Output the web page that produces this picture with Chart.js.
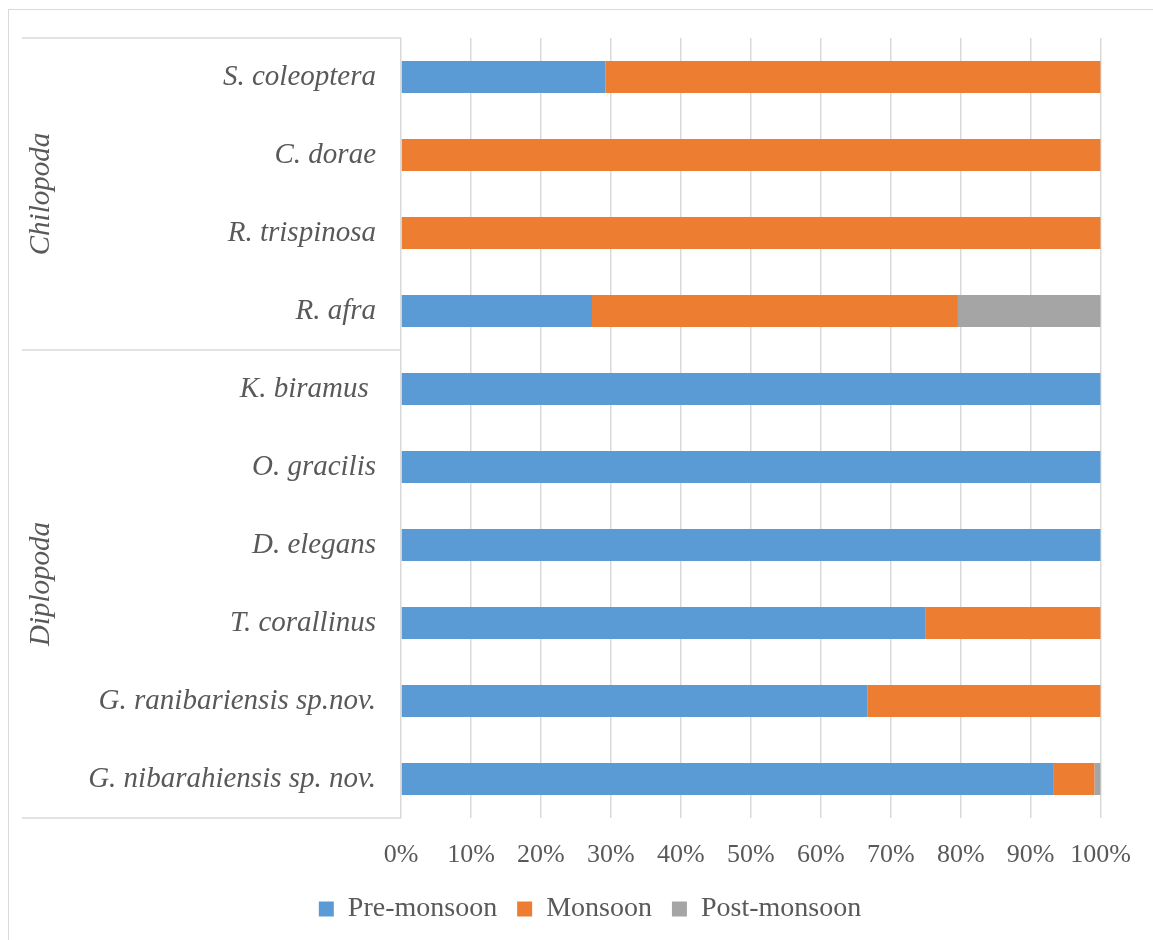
<!DOCTYPE html>
<html>
<head>
<meta charset="utf-8">
<script src="https://cdn.jsdelivr.net/npm/chart.js@4"></script>
<style>
  body { margin: 0; background: #fff; }
  #frame { position: absolute; left: 8px; top: 9px; right: -2px; bottom: -2px; border-left: 1px solid #d9d9d9; border-top: 1px solid #d9d9d9; }
  #wrap { position: absolute; left: 0; top: 0; width: 1153px; height: 940px; }
</style>
</head>
<body>
<div id="frame"></div>
<div id="wrap"><canvas id="barChart" width="1153" height="940"></canvas></div>
<script>
// species, top to bottom
var categories = ['S. coleoptera', 'C. dorae', 'R. trispinosa', 'R. afra', 'K. biramus ',
  'O. gracilis', 'D. elegans', 'T. corallinus', 'G. ranibariensis sp.nov.', 'G. nibarahiensis sp. nov.'];
var preMonsoon = [29.2, 0, 0, 27.3, 100, 100, 100, 75, 66.7, 93.2];
var monsoon = [70.8, 100, 100, 52.3, 0, 0, 0, 25, 33.3, 5.9];
var postMonsoon = [0, 0, 0, 20.4, 0, 0, 0, 0, 0, 0.9];
var groupNames = ['Chilopoda', 'Diplopoda'];
var groupSizes = [4, 6];
var xTicks = [0, 10, 20, 30, 40, 50, 60, 70, 80, 90, 100];

var textColor = '#595959';
var lineColor = '#d9d9d9';
var serif = "'Liberation Serif', 'Times New Roman', serif";
var groupLeft = 22; // left end of the group separator lines

// group labels + separator lines on the left
var groupPlugin = {
    id: 'groups',
    afterDraw: function (chart) {
        var ctx = chart.ctx;
        var y = chart.scales.y;
        var area = chart.chartArea;
        var x0 = groupLeft, x1 = area.left;
        var edges = [area.top];
        var start = 0;
        groupSizes.forEach(function (n) {
            var end = start + n;
            if (end < categories.length) {
                edges.push((y.getPixelForValue(end - 1) + y.getPixelForValue(end)) / 2);
            } else {
                edges.push(area.bottom);
            }
            start = end;
        });
        ctx.save();
        ctx.strokeStyle = lineColor;
        ctx.lineWidth = 1.5;
        edges.forEach(function (e) {
            ctx.beginPath();
            ctx.moveTo(x0, e);
            ctx.lineTo(x1, e);
            ctx.stroke();
        });
        ctx.fillStyle = textColor;
        ctx.font = 'italic 29px ' + serif;
        ctx.textAlign = 'center';
        ctx.textBaseline = 'middle';
        groupNames.forEach(function (name, i) {
            var cy = (edges[i] + edges[i + 1]) / 2;
            ctx.save();
            ctx.translate(x0 + 19, cy);
            ctx.rotate(-Math.PI / 2);
            ctx.fillText(name, 0, 0);
            ctx.restore();
        });
        ctx.restore();
    }
};

var ctx = document.getElementById('barChart').getContext('2d');
var barChart = new Chart(ctx, {
    type: 'bar',
    data: {
        labels: categories,
        datasets: [
            { label: 'Pre-monsoon', data: preMonsoon, backgroundColor: '#5B9BD5' },
            { label: 'Monsoon', data: monsoon, backgroundColor: '#ED7D31' },
            { label: 'Post-monsoon', data: postMonsoon, backgroundColor: '#A5A5A5' }
        ]
    },
    options: {
        indexAxis: 'y',
        responsive: false,
        animation: false,
        layout: { padding: { left: 79, top: 38, right: 52, bottom: 7 } },
        datasets: { bar: { categoryPercentage: 1, barPercentage: 0.41 } },
        scales: {
            x: {
                stacked: true,
                min: 0,
                max: 100,
                afterBuildTicks: function (scale) {
                    scale.ticks = xTicks.map(function (v) { return { value: v }; });
                },
                afterFit: function (scale) { scale.height = 57; },
                ticks: {
                    callback: function (v) { return v + '%'; },
                    color: textColor,
                    font: { family: serif, size: 26 },
                    padding: 22,
                    maxRotation: 0
                },
                grid: { color: lineColor, lineWidth: 1.5, drawTicks: false },
                border: { display: false }
            },
            y: {
                stacked: true,
                afterFit: function (scale) { scale.width = 322; },
                ticks: {
                    color: textColor,
                    font: { family: serif, size: 29, style: 'italic' },
                    padding: 17
                },
                grid: { display: false },
                border: { display: false }
            }
        },
        plugins: {
            legend: {
                position: 'bottom',
                labels: {
                    boxWidth: 15,
                    boxHeight: 15,
                    color: textColor,
                    font: { family: serif, size: 28 },
                    padding: 20
                }
            },
            tooltip: { enabled: false }
        }
    },
    plugins: [groupPlugin]
});
</script>
</body>
</html>
